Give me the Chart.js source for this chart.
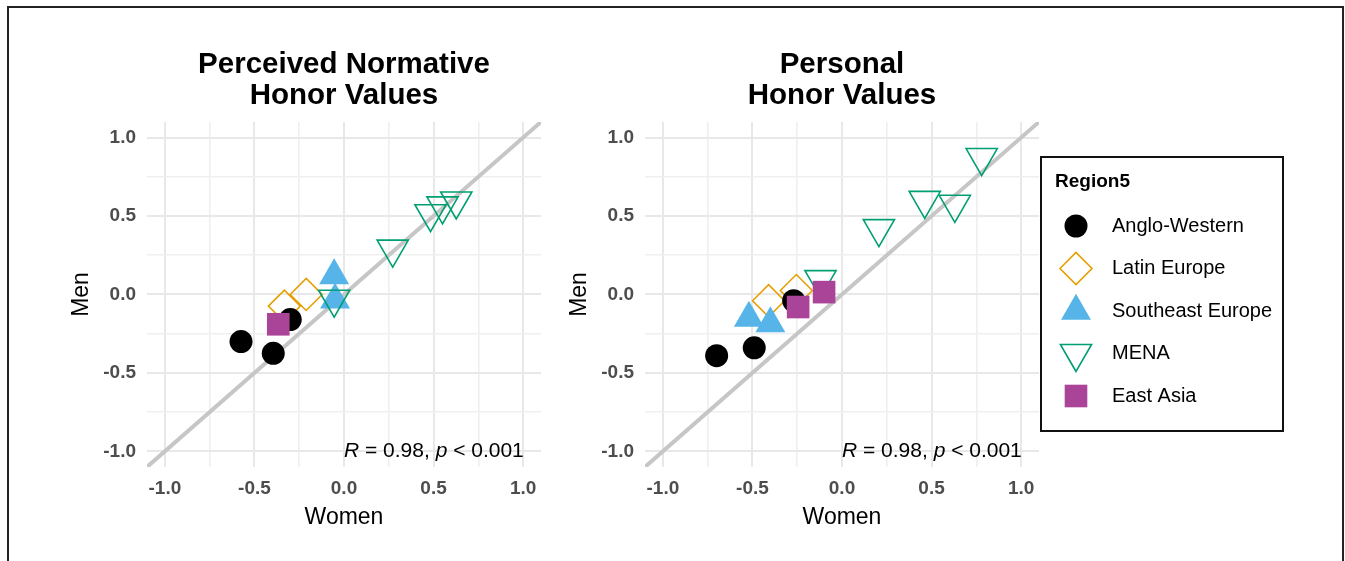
<!DOCTYPE html>
<html>
<head>
<meta charset="utf-8">
<script src="https://cdn.jsdelivr.net/npm/chart.js@4.4.0/dist/chart.umd.min.js"></script>
<style>
  html, body { margin: 0; padding: 0; background: #fff; }
  body { width: 1345px; height: 561px; position: relative; overflow: hidden; }
  #frame { position: absolute; left: 7px; top: 6px; width: 1337px; height: 620px; border: 2px solid #222; box-sizing: border-box; }
  #left { position: absolute; left: 0; top: 0; }
  #right { position: absolute; left: 498px; top: 0; }
</style>
</head>
<body>
<div id="frame"></div>
<canvas id="left" width="561" height="561"></canvas>
<canvas id="right" width="847" height="561"></canvas>
<script>
const FONT = '"Liberation Sans", Arial, Helvetica, sans-serif';

// axis ticks (grid every 0.25, labels every 0.5)
const axisRange = [-1.1, 1.1];
const gridValues = [-1, -0.75, -0.5, -0.25, 0, 0.25, 0.5, 0.75, 1];
const majorValues = [-1, -0.5, 0, 0.5, 1];
const tickLabels = ["-1.0", "-0.5", "0.0", "0.5", "1.0"];

// y = x reference line
const identityLine = [{ x: -1.1, y: -1.1 }, { x: 1.1, y: 1.1 }];

const regions = ["Anglo-Western", "Latin Europe", "Southeast Europe", "MENA", "East Asia"];

// Perceived normative honor values (women x, men y)
const normAngloX = [-0.575, -0.395, -0.30];
const normAngloY = [-0.30, -0.375, -0.16];
const normLatinX = [-0.333, -0.211];
const normLatinY = [-0.074, 0.0];
const normSEX = [-0.055, -0.05];
const normSEY = [0.12, -0.035];
const normMenaX = [-0.055, 0.272, 0.483, 0.55, 0.627];
const normMenaY = [-0.03, 0.289, 0.515, 0.565, 0.596];
const normAsiaX = [-0.367];
const normAsiaY = [-0.19];

// Personal honor values
const persAngloX = [-0.70, -0.49, -0.27];
const persAngloY = [-0.39, -0.34, -0.04];
const persLatinX = [-0.41, -0.255];
const persLatinY = [-0.04, 0.025];
const persSEX = [-0.52, -0.40];
const persSEY = [-0.15, -0.185];
const persMenaX = [-0.12, 0.206, 0.462, 0.63, 0.78];
const persMenaY = [0.095, 0.42, 0.60, 0.575, 0.873];
const persAsiaX = [-0.245, -0.10];
const persAsiaY = [-0.08, 0.015];

const corParts = [
  { text: "R", italic: true },
  { text: " = 0.98, ", italic: false },
  { text: "p", italic: true },
  { text: " < 0.001", italic: false }
];
const corAt = { x: 0, y: -1.0 };

function pts(xs, ys) {
  return xs.map((x, i) => ({ x, y: ys[i] }));
}

const styles = {
  "Anglo-Western": { pointStyle: "circle", pointRadius: 11.5, pointBackgroundColor: "#000000", pointBorderColor: "#000000", pointBorderWidth: 0, order: 4 },
  "Latin Europe": { pointStyle: "rectRot", pointRadius: 16, pointBackgroundColor: "rgba(0,0,0,0)", pointBorderColor: "#E69F00", pointBorderWidth: 1.6, order: 5 },
  "Southeast Europe": { pointStyle: "triangle", pointRadius: 17.3, pointBackgroundColor: "#56B4E9", pointBorderColor: "#56B4E9", pointBorderWidth: 0, order: 3 },
  "MENA": { pointStyle: "triangle", pointRotation: 180, pointRadius: 18, pointBackgroundColor: "rgba(0,0,0,0)", pointBorderColor: "#009E73", pointBorderWidth: 1.6, order: 2 },
  "East Asia": { pointStyle: "rect", pointRadius: 16, pointBackgroundColor: "#AA4499", pointBorderColor: "#AA4499", pointBorderWidth: 0, order: 1 }
};

function buildDatasets(series) {
  const sets = regions.map((name, i) => Object.assign({
    label: name,
    data: series[i],
    pointHoverRadius: styles[name].pointRadius
  }, styles[name]));
  sets.push({
    label: "identity",
    data: identityLine,
    showLine: true,
    borderColor: "#C6C6C6",
    borderWidth: 4,
    pointRadius: 0,
    order: 10
  });
  return sets;
}

function tickText(v) {
  const idx = majorValues.findIndex(m => Math.abs(m - v) < 1e-6);
  return idx === -1 ? "" : tickLabels[idx];
}

function axis(titleText, horizontal) {
  return {
    type: "linear",
    min: axisRange[0],
    max: axisRange[1],
    afterBuildTicks: s => { s.ticks = gridValues.map(v => ({ value: v })); },
    afterFit: s => { if (horizontal) s.height = 94; else s.width = 147; },
    border: { display: false },
    grid: {
      drawTicks: false,
      color: ctx => tickText(ctx.tick.value) ? "#E8E8E8" : "#EFEFEF",
      lineWidth: ctx => tickText(ctx.tick.value) ? 2 : 1.6
    },
    ticks: {
      autoSkip: false,
      maxRotation: 0,
      padding: horizontal ? 10 : 11,
      color: "#4D4D4D",
      font: { family: FONT, size: 19, weight: "bold" },
      callback: v => tickText(v)
    },
    title: {
      display: true,
      text: titleText,
      color: "#000",
      font: { family: FONT, size: 23, weight: "normal" },
      padding: horizontal ? { top: 0, bottom: 30 } : { top: 68, bottom: 0 }
    }
  };
}

const corPlugin = {
  id: "corLabel",
  afterDatasetsDraw(chart) {
    const { ctx, scales } = chart;
    let px = scales.x.getPixelForValue(corAt.x);
    const py = scales.y.getPixelForValue(corAt.y);
    ctx.save();
    ctx.fillStyle = "#000";
    ctx.textAlign = "left";
    ctx.textBaseline = "middle";
    corParts.forEach(p => {
      ctx.font = (p.italic ? "italic " : "") + "21px " + FONT;
      ctx.fillText(p.text, px, py);
      px += ctx.measureText(p.text).width;
    });
    ctx.restore();
  }
};

const legendPlugin = {
  id: "regionLegend",
  afterDraw(chart) {
    const { ctx, chartArea } = chart;
    const left = chartArea.right + 2, top = 157, w = 242, h = 274;
    ctx.save();
    ctx.strokeStyle = "#111";
    ctx.lineWidth = 2;
    ctx.strokeRect(left, top, w, h);
    ctx.fillStyle = "#000";
    ctx.textBaseline = "middle";
    ctx.textAlign = "left";
    ctx.font = "bold 19px " + FONT;
    ctx.fillText("Region5", left + 14, top + 25);
    regions.forEach((name, i) => {
      const st = styles[name];
      const cy = top + 69 + i * 42.5;
      const cx = left + 35;
      ctx.fillStyle = st.pointBackgroundColor;
      ctx.strokeStyle = st.pointBorderColor;
      ctx.lineWidth = st.pointBorderWidth;
      Chart.helpers.drawPoint(ctx, {
        pointStyle: st.pointStyle,
        rotation: st.pointRotation || 0,
        radius: st.pointRadius,
        borderWidth: st.pointBorderWidth
      }, cx, cy);
      ctx.fillStyle = "#000";
      ctx.font = "20px " + FONT;
      ctx.fillText(name, left + 71, cy);
    });
    ctx.restore();
  }
};

function makeChart(id, titleLines, series, rightPad, extraPlugins) {
  return new Chart(document.getElementById(id), {
    type: "scatter",
    data: { datasets: buildDatasets(series) },
    options: {
      responsive: false,
      animation: false,
      layout: { padding: { left: 0, right: rightPad, top: 0, bottom: 0 } },
      plugins: {
        legend: { display: false },
        tooltip: { enabled: false },
        title: {
          display: true,
          text: titleLines,
          fullSize: false,
          color: "#000",
          font: { family: FONT, size: 29.5, weight: "bold", lineHeight: 1.05 },
          padding: { top: 49, bottom: 11 }
        }
      },
      scales: {
        x: axis("Women", true),
        y: axis("Men", false)
      }
    },
    plugins: [corPlugin].concat(extraPlugins)
  });
}

makeChart("left", ["Perceived Normative", "Honor Values"], [
  pts(normAngloX, normAngloY),
  pts(normLatinX, normLatinY),
  pts(normSEX, normSEY),
  pts(normMenaX, normMenaY),
  pts(normAsiaX, normAsiaY)
], 20, []);

makeChart("right", ["Personal", "Honor Values"], [
  pts(persAngloX, persAngloY),
  pts(persLatinX, persLatinY),
  pts(persSEX, persSEY),
  pts(persMenaX, persMenaY),
  pts(persAsiaX, persAsiaY)
], 306, [legendPlugin]);
</script>
</body>
</html>
